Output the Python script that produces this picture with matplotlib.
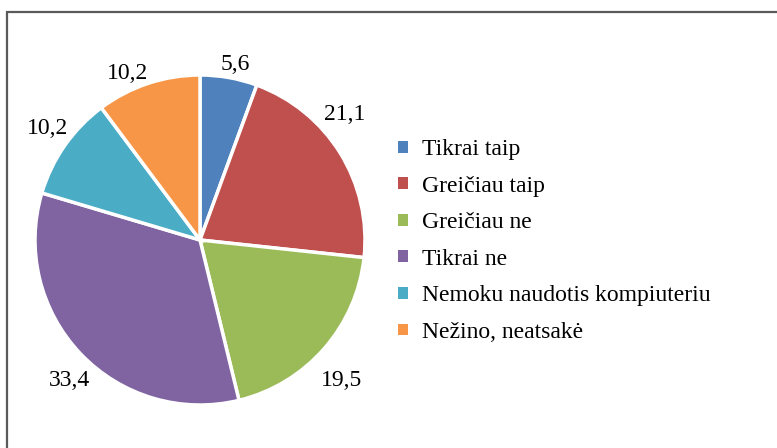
import numpy as np
import matplotlib.pyplot as plt
from matplotlib.patches import Rectangle, Patch

labels = ['Tikrai taip', 'Greičiau taip', 'Greičiau ne', 'Tikrai ne',
          'Nemoku naudotis kompiuteriu', 'Nežino, neatsakė']
values = [5.6, 21.1, 19.5, 33.4, 10.2, 10.2]
colors = ['#4F81BD', '#C0504D', '#9BBB59', '#8064A2', '#4BACC6', '#F79646']
# small nudges (points) for data labels, as placed in the original
label_nudge = [(2, -3), (-14, 17), (-2, -10), (6, -6), (4, 1), (-10, -7)]

plt.rcParams['font.family'] = ['Liberation Serif', 'DejaVu Serif']

W, H = 777, 448
fig = plt.figure(figsize=(W / 100, H / 100), dpi=100)

# outer frame (only left and top edges visible in the picture)
fig.add_artist(Rectangle((7 / W, -0.1), 1.2, 1.1 - 12 / H,
                         transform=fig.transFigure, fill=False,
                         edgecolor='#5a5a5a', linewidth=1.6))

ax = fig.add_axes([35 / W, 43 / H, 330 / W, 330 / H])
wedges, _ = ax.pie(values, colors=colors, startangle=90, counterclock=False,
                   wedgeprops=dict(edgecolor='white', linewidth=2.5))

# data labels just outside the rim, like "outside end" labels
half_w, half_h = 0.13, 0.056
for w, v, nd in zip(wedges, values, label_nudge):
    ang = np.deg2rad((w.theta1 + w.theta2) / 2)
    c, s = np.cos(ang), np.sin(ang)
    r = 1.03 + abs(c) * half_w + abs(s) * half_h
    ax.annotate(f'{v:.1f}'.replace('.', ','), (r * c, r * s), xytext=nd,
                textcoords='offset points', ha='center', va='center',
                fontsize=17, color='black', annotation_clip=False)

ax.set_xlim(-1, 1)
ax.set_ylim(-1, 1)
ax.set_aspect('equal')
ax.axis('off')

handles = [Patch(facecolor=c, edgecolor='none') for c in colors]
fig.legend(handles, labels, loc='center left',
           bbox_to_anchor=(377 / W, (H - 241) / H), frameon=False,
           fontsize=17, handlelength=0.4, handleheight=0.4,
           handletextpad=0.6, labelspacing=0.66)

fig.savefig('out.png', dpi=100)
